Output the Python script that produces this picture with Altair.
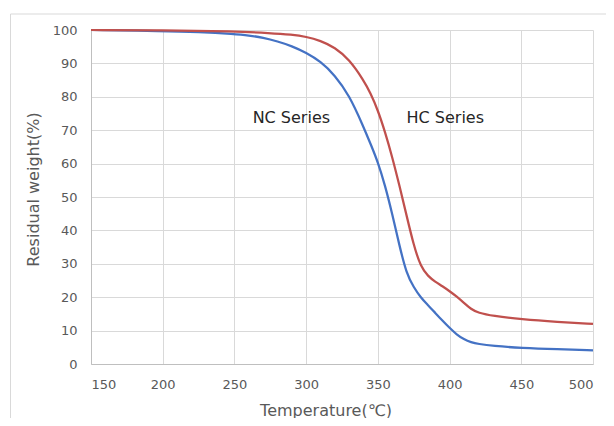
import altair as alt
import pandas as pd

nc_temp = [150, 200, 225, 250, 260, 270, 280, 290, 300, 310, 320, 330, 340, 345, 350, 355, 360, 365, 370, 375, 380, 385, 390, 395, 400, 405, 410, 415, 420, 430, 450, 475, 500]
nc_wt = [100, 99.7, 99.4, 98.8, 98.4, 97.7, 96.6, 95.2, 93.2, 90.6, 86.5, 80.5, 71.0, 65.8, 60.5, 53.5, 45.0, 35.5, 27.0, 23.0, 19.8, 17.6, 15.3, 13.0, 10.8, 8.8, 7.4, 6.5, 6.0, 5.4, 4.8, 4.4, 4.1]

hc_temp = [150, 200, 250, 275, 290, 300, 310, 320, 330, 340, 345, 350, 355, 360, 365, 370, 375, 380, 385, 390, 395, 400, 405, 410, 415, 420, 430, 450, 475, 500]
hc_wt = [100, 99.9, 99.6, 99.1, 98.6, 98.0, 96.8, 94.8, 91.2, 85.0, 81.0, 76.0, 69.5, 62.0, 53.5, 44.5, 35.5, 29.0, 26.3, 24.6, 23.3, 21.8, 20.2, 18.3, 16.4, 15.3, 14.4, 13.4, 12.6, 12.0]

labels = ["NC Series", "HC Series"]
label_x = [262.7, 370]
label_y = [73.6, 73.6]

x_ticks = [150, 200, 250, 300, 350, 400, 450, 500]
y_ticks = [0, 10, 20, 30, 40, 50, 60, 70, 80, 90, 100]

series_names = ["NC", "HC"]
series_colors = ["#4472C4", "#C0504D"]

df = pd.concat([
    pd.DataFrame({"t": nc_temp, "w": nc_wt, "s": "NC"}),
    pd.DataFrame({"t": hc_temp, "w": hc_wt, "s": "HC"}),
])
lab = pd.DataFrame({"t": label_x, "w": label_y, "txt": labels})

xs = alt.Scale(domain=[150, 500], nice=False)
ys = alt.Scale(domain=[0, 100], nice=False)

x_axis = alt.Axis(title="Temperature(℃)", values=x_ticks, labelOverlap=False,
                  titleX=234.5, titleY=46, titleAlign="center", titleBaseline="middle")
y_axis = alt.Axis(title="Residual weight(%)", values=y_ticks, labelOverlap=False,
                  titleX=-58, titleY=159, titleAlign="center", titleBaseline="middle")

lines = alt.Chart(df).mark_line(strokeWidth=2.25, interpolate="basis").encode(
    x=alt.X("t:Q", scale=xs, axis=x_axis),
    y=alt.Y("w:Q", scale=ys, axis=y_axis),
    color=alt.Color("s:N", scale=alt.Scale(domain=series_names, range=series_colors), legend=None),
    detail="s:N",
)

texts = alt.Chart(lab).mark_text(align="left", baseline="middle", fontSize=16,
                                 font="DejaVu Sans", color="#262626").encode(
    x=alt.X("t:Q", scale=xs, axis=x_axis), y=alt.Y("w:Q", scale=ys, axis=y_axis), text="txt:N")

border = alt.Chart(pd.DataFrame({"a": [0]})).mark_rect(
    fill=None, stroke="#d9d9d9", strokeWidth=1).encode(
    x=alt.value(-80.5), x2=alt.value(700), y=alt.value(-16), y2=alt.value(500))

chart = alt.layer(border, lines, texts).properties(
    width=502, height=334,
    autosize=alt.AutoSizeParams(type="none"),
    padding={"left": 83, "top": 22, "right": 13, "bottom": 54},
).configure_view(stroke=None).configure_axis(
    grid=True, gridColor="#d9d9d9", gridWidth=1,
    domainColor="#bfbfbf", ticks=False,
    labelFont="DejaVu Sans", labelFontSize=13, labelColor="#595959",
    titleFont="DejaVu Sans", titleFontSize=16, titleColor="#595959", titleFontWeight="normal",
).configure_axisY(labelPadding=14).configure_axisX(labelPadding=14)

chart.save("out.html", embed_options={"renderer": "svg", "actions": False})
